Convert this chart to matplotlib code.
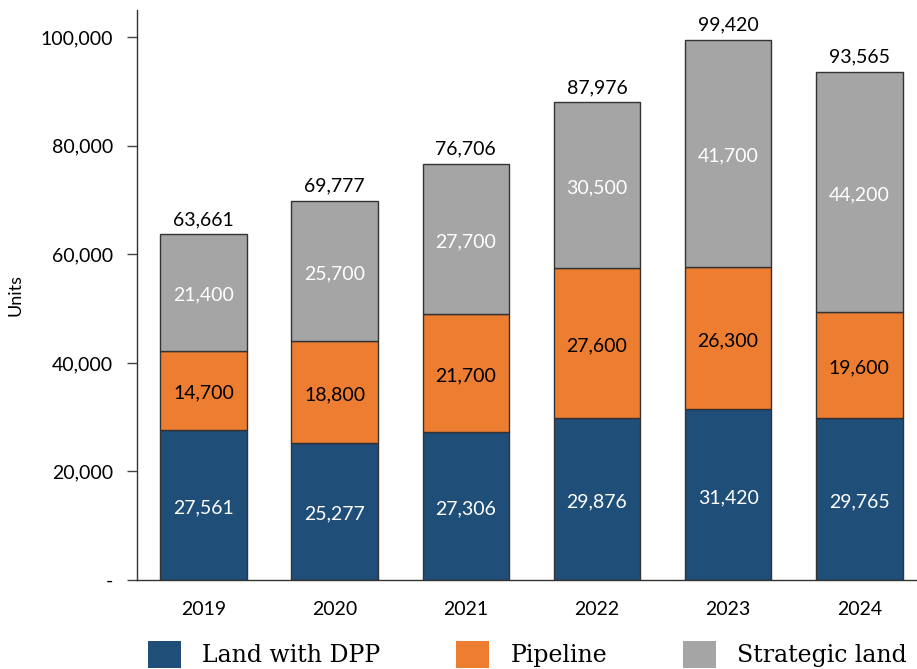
import matplotlib.pyplot as plt
import numpy as np
from matplotlib.ticker import FuncFormatter
from matplotlib.patches import Patch

# Housing land supply by year
years = ['2019', '2020', '2021', '2022', '2023', '2024']
land_dpp = [27561, 25277, 27306, 29876, 31420, 29765]
pipeline = [14700, 18800, 21700, 27600, 26300, 19600]
strategic = [21400, 25700, 27700, 30500, 41700, 44200]

series_names = ['Land with DPP', 'Pipeline', 'Strategic land']
colors = ['#1f4e79', '#ed7d31', '#a5a5a5']
label_colors = ['white', 'black', 'white']

plt.rcParams['font.family'] = ['Lato', 'DejaVu Sans']

fig = plt.figure(figsize=(9.17, 6.69), dpi=100)
ax = fig.add_axes([0.149, 0.133, 0.851, 0.852])

x = np.arange(len(years))
bottom = np.zeros(len(years))
for vals, name, col, lc in zip([land_dpp, pipeline, strategic], series_names, colors, label_colors):
    vals = np.array(vals)
    ax.bar(x, vals, 0.66, bottom=bottom, color=col, edgecolor='#333333', linewidth=1.0, label=name)
    for xi, b, v in zip(x, bottom, vals):
        ax.text(xi, b + v / 2 - 500, f'{v:,}', ha='center', va='center', color=lc, fontsize=14)
    bottom += vals

# Totals above each bar
for xi, t in zip(x, bottom):
    ax.text(xi, t + 1200, f'{int(t):,}', ha='center', va='bottom', color='black', fontsize=14)

ax.set_xlim(-0.51, 5.44)
ax.set_ylim(0, 105000)
ax.set_yticks([0, 20000, 40000, 60000, 80000, 100000])
ax.yaxis.set_major_formatter(FuncFormatter(lambda v, p: '-' if v == 0 else f'{int(v):,}'))
ax.set_xticks(x)
ax.set_xticklabels(years)
ax.tick_params(axis='x', length=0, pad=15, labelsize=14)
ax.tick_params(axis='y', length=7, width=1, pad=10, labelsize=14, color='#444444')
ax.set_ylabel('Units', fontsize=13, labelpad=12)

for side in ['top', 'right']:
    ax.spines[side].set_visible(False)
for side in ['left', 'bottom']:
    ax.spines[side].set_color('#333333')
    ax.spines[side].set_linewidth(1.0)

handles = [Patch(facecolor=c, edgecolor='none') for c in colors]
fig.legend(handles=handles, labels=series_names, loc='lower center', bbox_to_anchor=(0.575, -0.03),
           ncol=3, frameon=False, prop={'family': 'DejaVu Serif', 'size': 17},
           handlelength=1.4, handleheight=1.4, handletextpad=0.9, columnspacing=3.2)

fig.savefig('out.png', dpi=100)
